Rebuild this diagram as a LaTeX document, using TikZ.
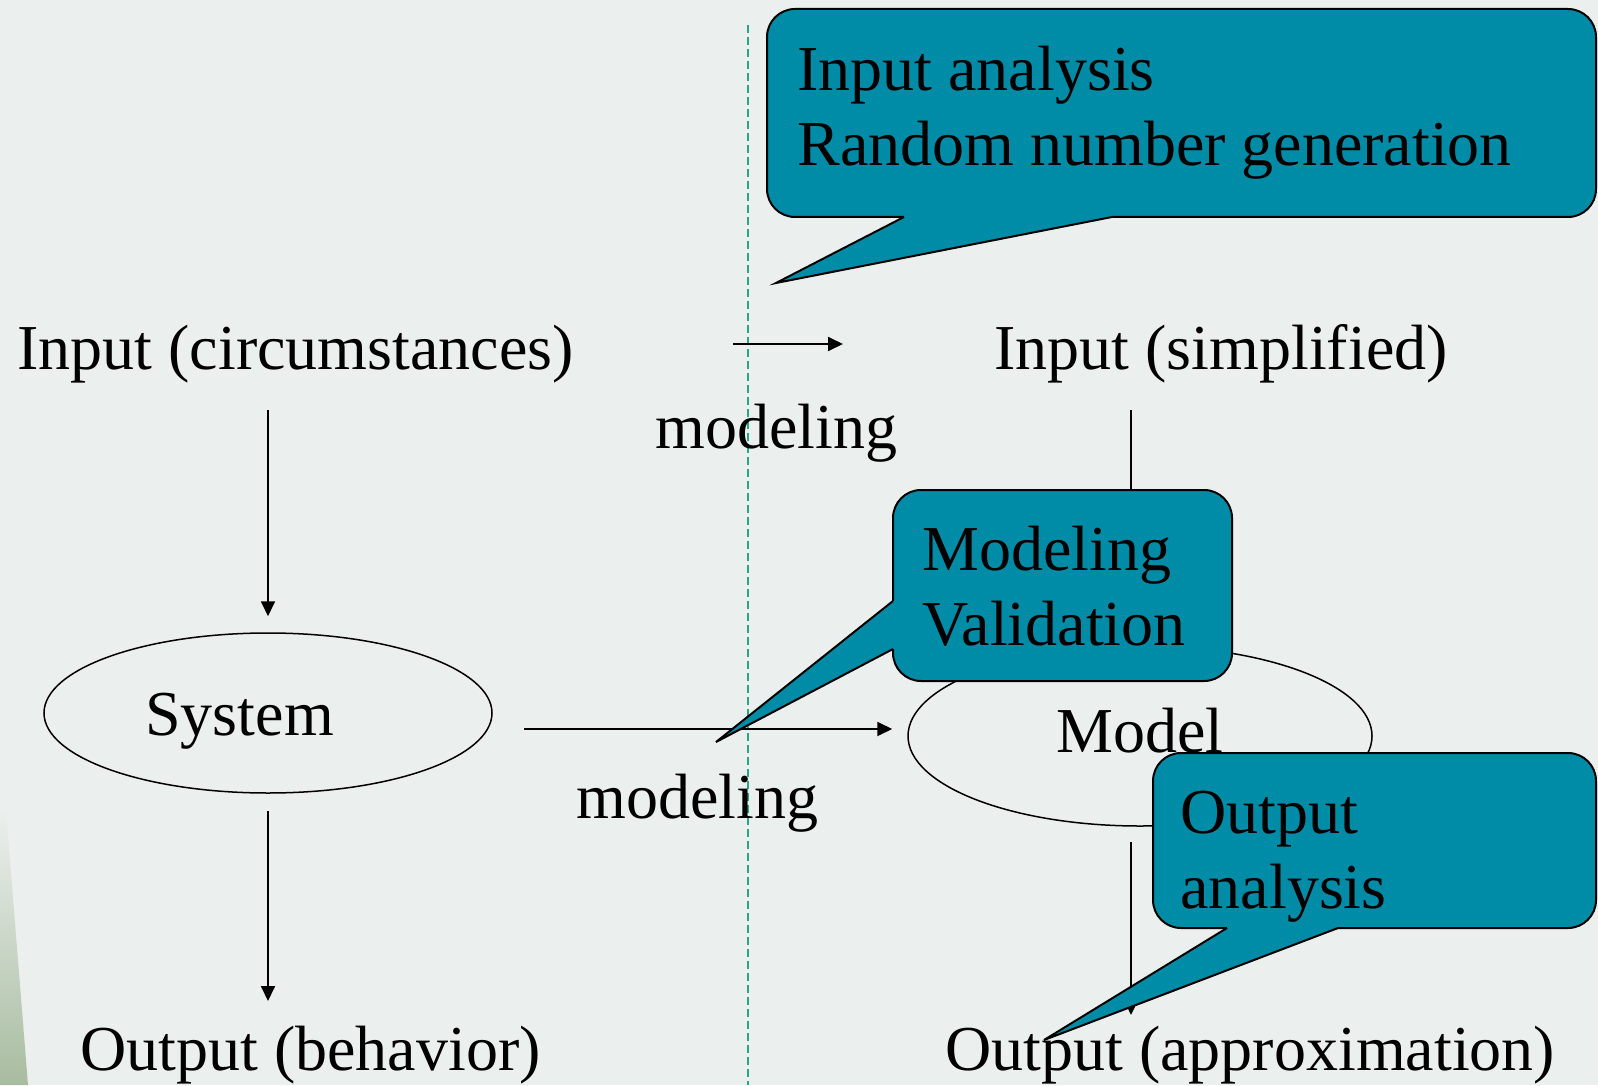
\documentclass[tikz,border=0pt]{standalone}
\usepackage{fontspec}
\setmainfont{Liberation Serif}
\usetikzlibrary{arrows.meta,calc,shapes.geometric}
\definecolor{bg}{RGB}{235,239,237}
\definecolor{callout}{RGB}{0,139,166}
\definecolor{divider}{RGB}{38,166,138}
\definecolor{leaf}{RGB}{168,188,160}
\begin{document}
\begin{tikzpicture}[x=0.5pt,y=-0.5pt,
  lbl/.style={inner sep=0pt,anchor=base west,font=\fontsize{32}{37.5}\selectfont},
  arr/.style={line width=0.9pt,-{Triangle[length=7.5pt,width=7pt]}},
  oval/.style={draw,ellipse,line width=0.75pt,inner sep=0pt},
  bubble/.style={fill=callout,draw=black,line width=1pt,rounded corners=14pt},
  tail/.style={draw=black,line width=1pt,line join=miter},
]
% slide background and corner decoration
\fill[bg] (0,0) rectangle (1598,1085);
\useasboundingbox (0,0) rectangle (1598,1085);
\shade[top color=bg,bottom color=leaf] (0,810) -- (6,810) -- (28,1085) -- (0,1085) -- cycle;

% divider between real world and model world
\draw[divider,line width=0.7pt,dash pattern=on 4pt off 2pt] (748,25) -- (748,1085);

% real system (left) and model (right)
\node[lbl] (in1) at (17,369) {Input (circumstances)};
\node[lbl] (in2) at (994,369) {Input (simplified)};
\node[lbl] (mod1) at (655,448) {modeling};
\node[oval,minimum width=224pt,minimum height=80pt] (sys) at (268,713) {};
\node[lbl] (systxt) at (145,735) {System};
\node[lbl] (mod2) at (576,818) {modeling};
\node[oval,minimum width=232pt,minimum height=90pt] (mdl) at (1140,736) {};
\node[lbl] (mdltxt) at (1056,752) {Model};
\node[lbl] (out1) at (80,1070) {Output (behavior)};
\node[lbl] (out2) at (945,1070) {Output (approximation)};

% connectors
\draw[arr,shorten <=20.5pt,shorten >=8pt] (in1.base -| sys.north) -- (sys.north);
\draw[arr,shorten <=8.5pt,shorten >=34.5pt] (sys.south) -- (sys.south |- out1.base);
\draw[arr,shorten <=79.5pt,shorten >=75.5pt] ($(in1.base east)+(0,-25)$) -- ($(in2.base west)+(0,-25)$);
\draw[arr,shorten <=15.5pt,shorten >=7.5pt] ($(sys.east)+(0,16)$) -- ($(mdl.west)+(0,-7)$);
\draw[arr,shorten <=20.5pt,shorten >=8pt] ($(in2.base -| mdl.north)+(-9,0)$) -- ($(mdl.north)+(-9,0)$);
\draw[arr,shorten <=7.5pt,shorten >=27.5pt] ($(mdl.south)+(-9,0)$) -- ($(out2.base -| mdl.south)+(-9,0)$);

% callout: input analysis
\draw[bubble] (767,9) rectangle (1596,217);
\fill[callout] (904,217) -- (776,283) -- (1112,217) -- (1112,211) -- (904,211) -- cycle;
\draw[tail] (904,217) -- (776,283) -- (1112,217);
\node[lbl,align=left] (c1) at (797,166) {Input analysis\\Random number generation};

% callout: modeling / validation
\draw[bubble] (893,490) rectangle (1232,681);
\fill[callout] (893,601) -- (716,742) -- (893,649) -- (899,649) -- (899,601) -- cycle;
\draw[tail] (893,601) -- (716,742) -- (893,649);
\node[lbl,align=left] (c2) at (922,645) {Modeling\\Validation};

% callout: output analysis
\draw[bubble] (1153,753) rectangle (1596,928);
\fill[callout] (1227,928) -- (1044,1040) -- (1338,928) -- (1338,922) -- (1227,922) -- cycle;
\draw[tail] (1227,928) -- (1044,1040) -- (1338,928);
\node[lbl,align=left] (c3) at (1180,908) {Output\\analysis};
\end{tikzpicture}
\end{document}
